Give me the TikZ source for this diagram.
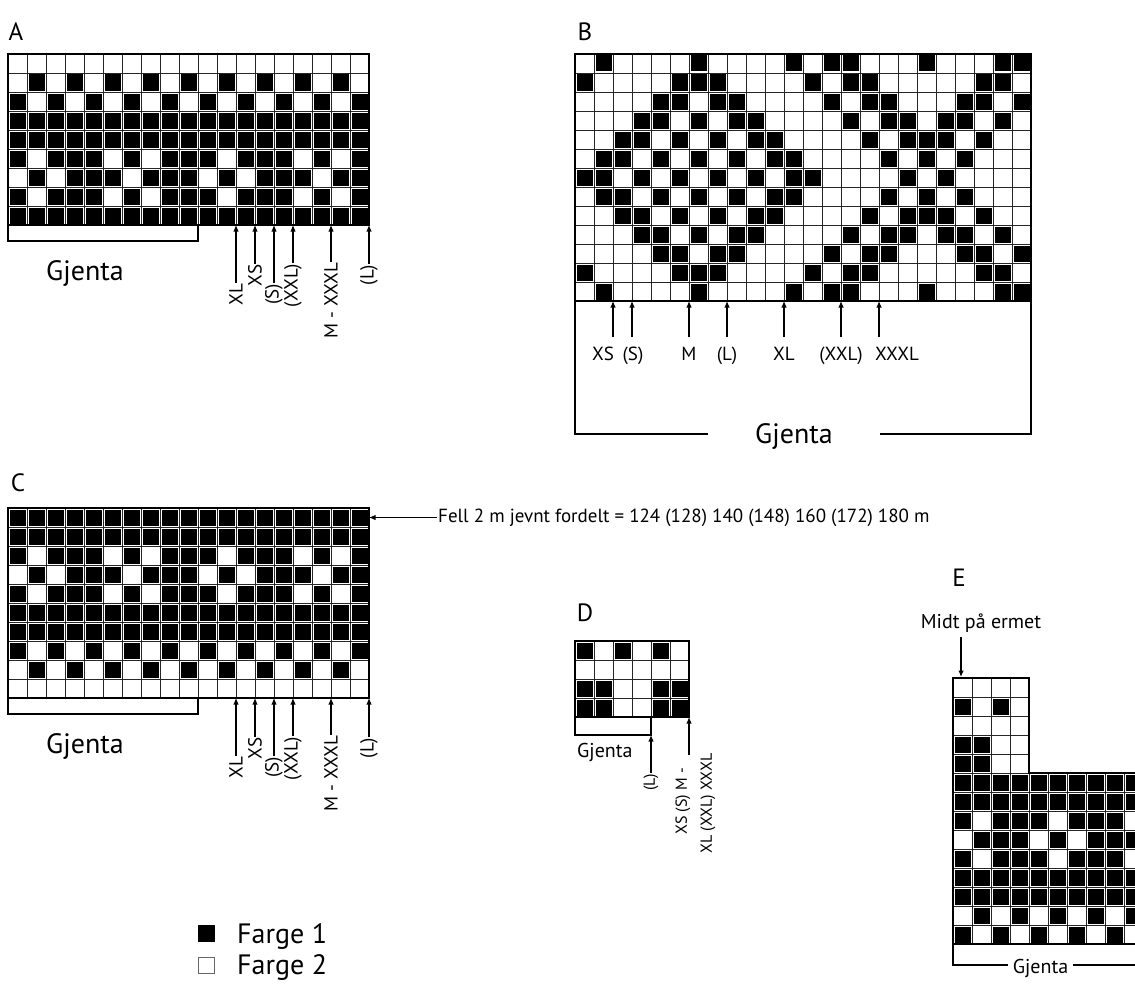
\documentclass[tikz,border=0pt]{standalone}
\usepackage{fontspec}
\setmainfont{PT Sans}
\usetikzlibrary{arrows.meta}
\tikzset{
  gridline/.style={draw=black!85, line width=0.65pt},
  chartborder/.style={draw=black, line width=1.5pt},
  bracket/.style={draw=black, line width=1.2pt},
  arr/.style={draw=black, line width=1.1pt, -{Latex[length=6.5pt,width=5.5pt]}},
  lab/.style={font=\fontsize{19}{22}\selectfont, inner sep=0.5pt},
  rlab/.style={lab, rotate=90, anchor=east},
  dlab/.style={font=\fontsize{16}{19}\selectfont, inner sep=0.5pt, rotate=90, anchor=east},
  letter/.style={font=\fontsize{25}{29}\selectfont, inner sep=0pt},
  big/.style={font=\fontsize{28}{33}\selectfont, inner sep=0pt},
  mid/.style={font=\fontsize{20}{24}\selectfont, inner sep=0pt},
}
\newcommand\knitgrid[3]{%
  \foreach \rowlist [count=\r from 0] in {#3} {%
    \foreach \v [count=\c from 0] in \rowlist {%
      \ifnum\v=1 \fill[black] ({#1+\c*19+1.5},{#2+\r*19+1.5}) rectangle ++(16,16);\fi
      \draw[gridline] ({#1+\c*19},{#2+\r*19}) rectangle ++(19,19);
    }%
  }%
}
\begin{document}
\begin{tikzpicture}[x=1pt,y=-1pt]
\useasboundingbox[fill=white] (0,0) rectangle (1135,990);

% ---------------- A ----------------
\node[letter] (labA) at (16,32) {A};
\knitgrid{8}{54}{
{0,0,0,0,0,0,0,0,0,0,0,0,0,0,0,0,0,0,0},
{0,1,0,1,0,1,0,1,0,1,0,1,0,1,0,1,0,1,0},
{1,0,1,0,1,0,1,0,1,0,1,0,1,0,1,0,1,0,1},
{1,1,1,1,1,1,1,1,1,1,1,1,1,1,1,1,1,1,1},
{1,1,1,1,1,1,1,1,1,1,1,1,1,1,1,1,1,1,1},
{1,0,1,1,1,0,1,0,1,1,1,0,1,1,1,0,1,0,1},
{0,1,0,1,1,1,0,1,1,1,0,1,0,1,1,1,0,1,1},
{1,0,1,1,1,0,1,0,1,1,1,0,1,1,1,0,1,0,1},
{1,1,1,1,1,1,1,1,1,1,1,1,1,1,1,1,1,1,1}}
\draw[chartborder] (8,54) rectangle (369,225);
\draw[bracket] (8,225) -- (8,241) -- (198,241) -- (198,225);
\node[big, anchor=base] (gjA) at (85,280) {Gjenta};
\foreach \n/\x in {1/236,2/255,3/274,4/293,5/331,6/369} {\coordinate (Ah\n) at (\x,225);}
\node[rlab] (Al1) at (236,283) {XL};
\node[rlab] (Al2) at (255,264) {XS};
\node[rlab] (Al3) at (274,283) {(S)};
\node[rlab] (Al4) at (293,263) {(XXL)};
\node[rlab] (Al5) at (331,262) {M - XXXL};
\node[rlab] (Al6) at (369,264) {(L)};
\foreach \n in {1,...,6} {\draw[arr] (Al\n.east) -- (Ah\n);}

% ---------------- B ----------------
\node[letter] (labB) at (585,32) {B};
\knitgrid{575}{54}{
{0,1,0,0,0,0,1,0,0,0,0,1,0,1,1,0,0,0,1,0,0,0,1,1},
{1,0,0,0,0,1,1,1,0,0,0,0,1,0,1,1,0,0,0,0,0,1,1,0},
{0,0,0,0,1,1,0,1,1,0,0,0,0,1,0,1,1,0,0,0,1,1,0,1},
{0,0,0,1,1,0,1,0,1,1,0,0,0,0,1,0,1,1,0,1,1,0,1,0},
{0,0,1,1,0,1,0,1,0,1,1,0,0,0,0,1,0,1,1,1,0,1,0,0},
{0,1,1,0,1,0,1,0,1,0,1,1,0,0,0,0,1,0,1,0,1,0,0,0},
{1,1,0,1,0,1,0,1,0,1,0,1,1,0,0,0,0,1,0,1,0,0,0,0},
{0,1,1,0,1,0,1,0,1,0,1,1,0,0,0,0,1,0,1,0,1,0,0,0},
{0,0,1,1,0,1,0,1,0,1,1,0,0,0,0,1,0,1,1,1,0,1,0,0},
{0,0,0,1,1,0,1,0,1,1,0,0,0,0,1,0,1,1,0,1,1,0,1,0},
{0,0,0,0,1,1,0,1,1,0,0,0,0,1,0,1,1,0,0,0,1,1,0,1},
{1,0,0,0,0,1,1,1,0,0,0,0,1,0,1,1,0,0,0,0,0,1,1,0},
{0,1,0,0,0,0,1,0,0,0,0,1,0,1,1,0,0,0,1,0,0,0,1,1}}
\draw[chartborder] (575,54) rectangle (1031,301);
\draw[bracket] (575,301) -- (575,434) -- (708,434);
\draw[bracket] (880,434) -- (1031,434) -- (1031,301);
\node[big, anchor=base] (gjB) at (794,443) {Gjenta};
\foreach \n/\x in {1/613,2/632,3/689,4/727,5/784,6/841,7/879} {
  \coordinate (Bh\n) at (\x,301); \coordinate (Bt\n) at (\x,337);
  \draw[arr] (Bt\n) -- (Bh\n);}
\node[lab, anchor=base] (Bl1) at (603,360) {XS};
\node[lab, anchor=base] (Bl2) at (633,360) {(S)};
\node[lab, anchor=base] (Bl3) at (689,360) {M};
\node[lab, anchor=base] (Bl4) at (727,360) {(L)};
\node[lab, anchor=base] (Bl5) at (784,360) {XL};
\node[lab, anchor=base] (Bl6) at (841,360) {(XXL)};
\node[lab, anchor=base] (Bl7) at (897,360) {XXXL};

% ---------------- C ----------------
\node[letter] (labC) at (18,483) {C};
\knitgrid{8}{508}{
{1,1,1,1,1,1,1,1,1,1,1,1,1,1,1,1,1,1,1},
{1,1,1,1,1,1,1,1,1,1,1,1,1,1,1,1,1,1,1},
{1,0,1,1,1,0,1,0,1,1,1,0,1,1,1,0,1,0,1},
{0,1,0,1,1,1,0,1,1,1,0,1,0,1,1,1,0,1,1},
{1,0,1,1,1,0,1,0,1,1,1,0,1,1,1,0,1,0,1},
{1,1,1,1,1,1,1,1,1,1,1,1,1,1,1,1,1,1,1},
{1,1,1,1,1,1,1,1,1,1,1,1,1,1,1,1,1,1,1},
{1,0,1,0,1,0,1,0,1,0,1,0,1,0,1,0,1,0,1},
{0,1,0,1,0,1,0,1,0,1,0,1,0,1,0,1,0,1,0},
{0,0,0,0,0,0,0,0,0,0,0,0,0,0,0,0,0,0,0}}
\draw[chartborder] (8,508) rectangle (369,698);
\draw[bracket] (8,698) -- (8,714) -- (198,714) -- (198,698);
\node[big, anchor=base] (gjC) at (85,753) {Gjenta};
\foreach \n/\x in {1/236,2/255,3/274,4/293,5/331,6/369} {\coordinate (Ch\n) at (\x,698);}
\node[rlab] (Cl1) at (236,756) {XL};
\node[rlab] (Cl2) at (255,737) {XS};
\node[rlab] (Cl3) at (274,756) {(S)};
\node[rlab] (Cl4) at (293,736) {(XXL)};
\node[rlab] (Cl5) at (331,735) {M - XXXL};
\node[rlab] (Cl6) at (369,737) {(L)};
\foreach \n in {1,...,6} {\draw[arr] (Cl\n.east) -- (Ch\n);}
\coordinate (Ctop) at (369,517.5);
\node[font=\fontsize{19}{22}\selectfont, anchor=west, inner sep=1pt] (fell) at (437,517.5)
  {Fell 2 m jevnt fordelt = 124 (128) 140 (148) 160 (172) 180 m};
\draw[arr] (fell.west) -- (Ctop);

% ---------------- D ----------------
\node[letter] (labD) at (585,613) {D};
\knitgrid{575}{641}{
{1,0,1,0,1,0},
{0,0,0,0,0,0},
{1,1,0,0,1,1},
{1,1,0,0,1,1}}
\draw[chartborder] (575,641) rectangle (689,717);
\draw[bracket] (575,717) -- (575,735) -- (651,735) -- (651,717);
\node[font=\fontsize{20}{24}\selectfont, inner sep=0pt, anchor=base west] (gjD) at (577,757) {Gjenta};
\coordinate (Dh1) at (651,735);
\coordinate (Dh2) at (689,717);
\node[dlab] (Dl1) at (651,773) {(L)};
\coordinate (Dt2) at (689,755);
\node[dlab] (Dl2) at (683,767) {XS (S) M -};
\node[dlab] (Dl3) at (708,753) {XL (XXL) XXXL};
\draw[arr] (Dl1.east) -- (Dh1);
\draw[arr] (Dt2) -- (Dh2);

% ---------------- E ----------------
\node[letter] (labE) at (959,578) {E};
\node[mid, anchor=base] (midt) at (981,628) {Midt på ermet};
\coordinate (Eh) at (961,677);
\draw[arr] (midt.south -| Eh) ++(0,5) coordinate (Et) -- (Eh);
\begin{scope}
\clip (0,0) rectangle (1135,990);
\knitgrid{953}{678}{
{0,0,0,0},
{1,0,1,0},
{0,0,0,0},
{1,1,0,0},
{1,1,0,0}}
\knitgrid{953}{773}{
{1,1,1,1,1,1,1,1,1,1},
{1,1,1,1,1,1,1,1,1,1},
{1,0,1,1,1,0,1,1,1,0},
{0,1,1,1,0,1,0,1,1,1},
{1,0,1,1,1,0,1,1,1,0},
{1,1,1,1,1,1,1,1,1,1},
{1,1,1,1,1,1,1,1,1,1},
{0,1,0,1,0,1,0,1,0,1},
{1,0,1,0,1,0,1,0,1,0}}
\draw[chartborder] (1150,773) -- (1029,773) -- (1029,678) -- (953,678) -- (953,944) -- (1150,944);
\draw[bracket] (953,944) -- (953,965) -- (1008,965);
\draw[bracket] (1073,965) -- (1150,965);
\end{scope}
\node[mid, anchor=base] (gjE) at (1040.5,973) {Gjenta};

% ---------------- legend ----------------
\node[draw=black, fill=black, line width=1pt, minimum size=16pt, inner sep=0pt] (leg1) at (206.5,933.5) {};
\node[draw=black!60, fill=white, line width=0.8pt, minimum size=16pt, inner sep=0pt] (leg2) at (206.5,965) {};
\node[big, anchor=base west] (legt1) at (237,943) {Farge 1};
\node[big, anchor=base west] (legt2) at (237,974) {Farge 2};
\end{tikzpicture}
\end{document}
